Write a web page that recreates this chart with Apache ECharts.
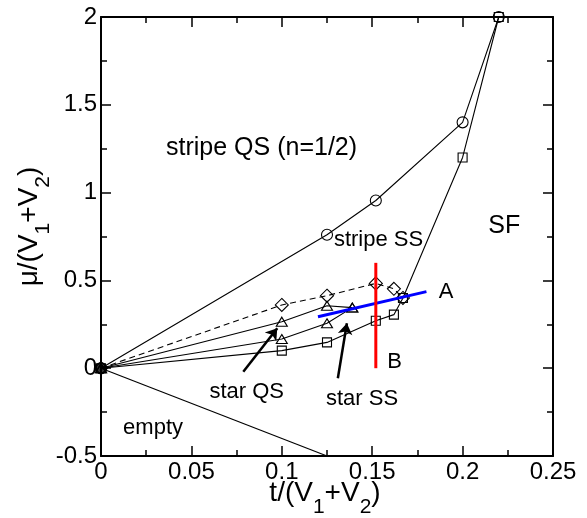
<!DOCTYPE html>
<html><head><meta charset="utf-8">
<script src="https://cdn.jsdelivr.net/npm/echarts@6/dist/echarts.min.js"></script>
<style>html,body{margin:0;padding:0;background:#fff}#c{width:587px;height:518px}</style>
</head><body><div id="c"></div>
<script>
const FONT = 'Liberation Sans, Arial, Helvetica, sans-serif';

// tick labels
const xTickLabels = ['0', '0.05', '0.1', '0.15', '0.2', '0.25'];
const yTickLabels = ['-0.5', '0', '0.5', '1', '1.5', '2'];

// series values
const circleX = [0, 0.125, 0.152, 0.2, 0.22];
const circleY = [0, 0.76, 0.955, 1.4, 2.0];
const squareX = [0, 0.1, 0.125, 0.152, 0.162, 0.167, 0.2, 0.22];
const squareY = [0, 0.10, 0.147, 0.27, 0.305, 0.40, 1.2, 2.0];
const diamondX = [0, 0.1, 0.125, 0.152, 0.162, 0.167];
const diamondY = [0, 0.36, 0.413, 0.483, 0.452, 0.40];
const triUpperX = [0, 0.1, 0.125, 0.139];
const triUpperY = [0, 0.265, 0.356, 0.345];
const triLowerX = [0, 0.1, 0.125, 0.139];
const triLowerY = [0, 0.166, 0.256, 0.345];
const emptyX = [0, 0.125];
const emptyY = [0, -0.5];
const lineAX = [0.12, 0.18];
const lineAY = [0.293, 0.436];
const lineBX = [0.152, 0.152];
const lineBY = [0, 0.6];
const originX = [0];
const originY = [0];
const arrowFromX = [0.0787, 0.131];
const arrowFromY = [-0.02, -0.057];
const arrowToX = [0.0975, 0.136];
const arrowToY = [0.227, 0.256];

// annotations
const noteText = ['stripe QS (n=1/2)', 'SF', 'stripe SS', 'A', 'B', 'star QS', 'star SS', 'empty'];
const noteX = [0.0888, 0.223, 0.1535, 0.1908, 0.1624, 0.0806, 0.1444, 0.0288];
const noteY = [1.254, 0.81, 0.73, 0.437, 0.038, -0.133, -0.175, -0.338];
const noteFont = [25, 25, 22, 22, 22, 22, 22, 22];

const zip = (xs, ys) => xs.map((x, i) => [x, ys[i]]);
const fmt = (labels, min, step) => v => {
  const i = Math.round((v - min) / step);
  return labels[i] !== undefined ? labels[i] : '';
};

const nameRich = {
  m: { fontSize: 28, fontFamily: FONT, color: '#000' },
  s: { fontSize: 21, fontFamily: FONT, color: '#000', padding: [29, 0, 0, 0] }
};

const axisCommon = {
  axisLine: { show: true, onZero: false, lineStyle: { color: '#000', width: 2 } },
  axisTick: { show: true, inside: true, length: 10, lineStyle: { color: '#000', width: 1.5 } },
  minorTick: { show: true, splitNumber: 2, length: 6, lineStyle: { color: '#000', width: 1.5 } },
  splitLine: { show: false },
  minorSplitLine: { show: false }
};

function marker(name, xs, ys, symbol, size, dashed) {
  return {
    type: 'line', name, data: zip(xs, ys), symbol, symbolSize: size, clip: false,
    showAllSymbol: true, animation: false, z: 3,
    lineStyle: { color: '#000', width: 1.1, type: dashed ? [6, 4] : 'solid' },
    itemStyle: { color: 'rgba(255,255,255,0)', borderColor: '#000', borderWidth: 1.1 }
  };
}

const chart = echarts.init(document.getElementById('c'), null, { renderer: 'canvas' });
chart.setOption({
  animation: false,
  backgroundColor: '#fff',
  textStyle: { fontFamily: FONT },
  grid: { left: 101, right: 34, top: 17, bottom: 62, containLabel: false, outerBoundsMode: 'none' },
  xAxis: [
    Object.assign({
      type: 'value', position: 'bottom', min: 0, max: 0.25, interval: 0.05,
      name: '{m|t/(V}{s|1}{m|+V}{s|2}{m|)}', nameLocation: 'middle', nameGap: 12,
      nameMoveOverlap: false,
      nameTextStyle: { rich: nameRich, padding: [0, 4, 0, 0] },
      axisLabel: { show: true, margin: 4, fontSize: 24, color: '#000', fontFamily: FONT,
        formatter: fmt(xTickLabels, 0, 0.05), showMinLabel: true, showMaxLabel: true, hideOverlap: false }
    }, axisCommon),
    Object.assign({
      type: 'value', position: 'top', min: 0, max: 0.25, interval: 0.05,
      axisLabel: { show: false }
    }, axisCommon)
  ],
  yAxis: [
    Object.assign({
      type: 'value', position: 'left', min: -0.5, max: 2, interval: 0.5,
      name: '{m|μ/(V}{s|1}{m|+V}{s|2}{m|)}', nameLocation: 'middle', nameGap: 47,
      nameMoveOverlap: false,
      nameTextStyle: { rich: nameRich, padding: [0, 0, 0, 20] },
      axisLabel: { show: true, margin: 4, fontSize: 24, color: '#000', fontFamily: FONT,
        formatter: fmt(yTickLabels, -0.5, 0.5), showMinLabel: true, showMaxLabel: true, hideOverlap: false }
    }, axisCommon),
    Object.assign({
      type: 'value', position: 'right', min: -0.5, max: 2, interval: 0.5,
      axisLabel: { show: false }
    }, axisCommon)
  ],
  series: [
    {
      type: 'line', name: 'empty boundary', data: zip(emptyX, emptyY), symbol: 'none', clip: false,
      lineStyle: { color: '#000', width: 1.2 }, z: 2
    },
    marker('circles', circleX, circleY, 'circle', 11, false),
    marker('squares', squareX, squareY, 'rect', 9, false),
    marker('diamonds', diamondX, diamondY, 'diamond', 13, true),
    marker('triangles upper', triUpperX, triUpperY, 'triangle', [11, 9], false),
    marker('triangles lower', triLowerX, triLowerY, 'triangle', [11, 9], false),
    {
      type: 'scatter', name: 'origin', data: zip(originX, originY), symbol: 'circle', symbolSize: 12,
      clip: false, itemStyle: { color: '#000' }, z: 6
    },
    {
      type: 'lines', coordinateSystem: 'cartesian2d', name: 'arrows',
      data: arrowFromX.map((x, i) => ({ coords: [[x, arrowFromY[i]], [arrowToX[i], arrowToY[i]]] })),
      symbol: ['none', 'arrow'], symbolSize: 11,
      lineStyle: { color: '#000', width: 2.5, opacity: 1, curveness: 0 }, z: 5
    },
    {
      type: 'line', name: 'A', data: zip(lineAX, lineAY), symbol: 'none', clip: false,
      lineStyle: { color: '#0000ff', width: 3 }, z: 7
    },
    {
      type: 'line', name: 'B', data: zip(lineBX, lineBY), symbol: 'none', clip: false,
      lineStyle: { color: '#ff0000', width: 3 }, z: 7
    },
    {
      type: 'scatter', name: 'notes', symbolSize: 1, clip: false,
      itemStyle: { color: 'rgba(0,0,0,0)' },
      data: noteText.map((t, i) => ({
        value: [noteX[i], noteY[i]], name: t,
        label: { fontSize: noteFont[i] }
      })),
      label: { show: true, position: 'inside', formatter: p => p.name, color: '#000',
        fontFamily: FONT, align: 'center', verticalAlign: 'middle',
        textBorderWidth: 0, textShadowBlur: 0, opacity: 1 },
      emphasis: { disabled: true },
      z: 8, silent: true
    }
  ]
});
</script></body></html>
